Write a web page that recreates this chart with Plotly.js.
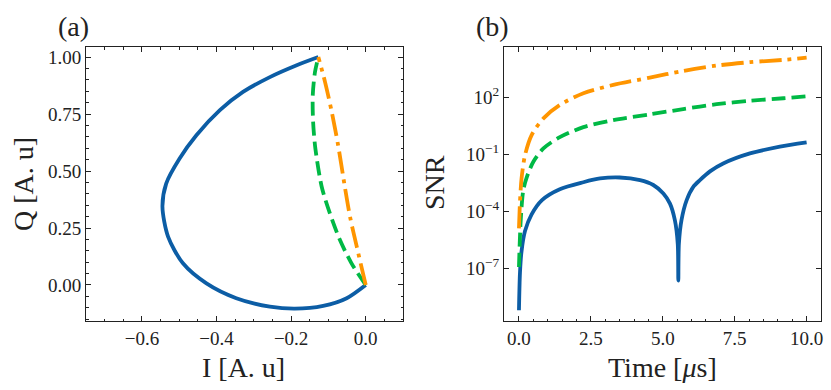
<!DOCTYPE html>
<html>
<head>
<meta charset="utf-8">
<script src="https://cdn.plot.ly/plotly-3.0.1.min.js"></script>
<style>
  html, body { margin: 0; padding: 0; background: #fff; }
  #plot { width: 831px; height: 390px; }
</style>
</head>
<body>
<div id="plot"></div>
<script>
// (a) IQ trajectories
let blueI = [0, -0.051, -0.114, -0.190, -0.257, -0.347, -0.427, -0.490, -0.530, -0.545, -0.535, -0.499, -0.454, -0.391, -0.329, -0.257, -0.185, -0.127];
let blueQ = [0, -0.058, -0.092, -0.104, -0.095, -0.058, 0.007, 0.095, 0.212, 0.343, 0.445, 0.555, 0.657, 0.767, 0.847, 0.912, 0.964, 1.0];

let greenI = [0, -0.038, -0.069, -0.096, -0.118, -0.135, -0.141, -0.142, -0.136, -0.127];
let greenQ = [0, 0.095, 0.197, 0.314, 0.431, 0.599, 0.715, 0.832, 0.934, 1.0];

let orangeI = [0, -0.024, -0.042, -0.056, -0.074, -0.091, -0.109, -0.127];
let orangeQ = [0, 0.168, 0.299, 0.431, 0.613, 0.759, 0.890, 1.0];

// (b) SNR vs time [us]
let blueT = [0, 0.035, 0.09, 0.21, 0.44, 0.8, 1.42, 2.24, 2.82, 3.5, 4.21, 4.67, 5.02, 5.25, 5.42, 5.52, 5.54, 5.56, 5.65, 5.83, 6.06, 6.29, 6.64, 7.1, 8.03, 9.07, 10];
let blueSNR = [6.2e-10, 5.9e-8, 8.1e-7, 9.3e-6, 7.1e-5, 4.0e-4, 1.5e-3, 3.5e-3, 5.5e-3, 6.2e-3, 4.5e-3, 2.5e-3, 8.9e-4, 2.6e-4, 3.5e-5, 2.0e-6, 2.3e-8, 2.0e-6, 3.5e-5, 4.0e-4, 2.0e-3, 4.5e-3, 1.3e-2, 3.4e-2, 0.115, 0.26, 0.44];

let greenT = [0, 0.06, 0.15, 0.27, 0.5, 0.85, 1.42, 2.24, 3.28, 4.55, 5.71, 6.87, 8.03, 9.19, 10];
let greenSNR = [1.2e-7, 3.2e-5, 1.3e-3, 6.3e-3, 4.2e-2, 0.21, 0.83, 2.8, 6.6, 13.2, 25, 45, 69, 93, 117];

let orangeT = [0, 0.035, 0.09, 0.21, 0.44, 0.85, 1.42, 2.24, 3.28, 4.55, 5.71, 6.87, 8.03, 9.19, 10];
let orangeSNR = [1.3e-5, 3.2e-4, 5.5e-3, 0.093, 1.07, 8.1, 41, 170, 470, 1150, 2570, 4900, 7400, 9800, 12900];

let snrTicks = [1e2, 1e-1, 1e-4, 1e-7];
let snrTickText = ['10<sup>2</sup>', '10<sup>−1</sup>', '10<sup>−4</sup>', '10<sup>−7</sup>'];

const blue = '#0C5DA5', green = '#00B945', orange = '#FF9500';
const dashed = '14px,6px', dashdot = '22px,6px,4px,6px';
const font = 'Liberation Serif, Times New Roman, serif';
const W = 831, H = 390;

function line(x, y, color, dash, xa, ya) {
  return {
    x: x, y: y, mode: 'lines', xaxis: xa, yaxis: ya,
    line: {color: color, width: 3.8, dash: dash, shape: 'spline', smoothing: 0.8},
    hoverinfo: 'skip'
  };
}

let data = [
  line(blueI, blueQ, blue, 'solid', 'x', 'y'),
  line(greenI, greenQ, green, dashed, 'x', 'y'),
  line(orangeI, orangeQ, orange, dashdot, 'x', 'y'),
  line(blueT, blueSNR, blue, 'solid', 'x2', 'y2'),
  line(greenT, greenSNR, green, dashed, 'x2', 'y2'),
  line(orangeT, orangeSNR, orange, dashdot, 'x2', 'y2')
];

// common axis look: black frame, inward ticks on all sides
function ax(extra) {
  let base = {
    showline: true, linecolor: '#222', linewidth: 1, mirror: 'allticks',
    ticks: 'inside', ticklen: 5, tickwidth: 1, tickcolor: '#222',
    showgrid: false, zeroline: false, automargin: false,
    tickfont: {family: font, size: 19, color: '#222'}
  };
  return Object.assign(base, extra);
}

function px(x) { return x / W; }
function py(y) { return 1 - y / H; }

let layout = {
  width: W, height: H,
  margin: {l: 0, r: 0, t: 0, b: 0},
  paper_bgcolor: '#fff', plot_bgcolor: '#fff',
  showlegend: false,
  xaxis: ax({
    domain: [px(86), px(403)], range: [-0.75, 0.1],
    tickvals: [-0.6, -0.4, -0.2, 0.0], ticktext: ['−0.6', '−0.4', '−0.2', '0.0'],
    minor: {ticks: 'inside', ticklen: 2.5, dtick: 0.05, tick0: 0, tickcolor: '#222', showgrid: false},
    anchor: 'y'
  }),
  yaxis: ax({
    domain: [py(321), py(47)], range: [-0.158, 1.044],
    tickvals: [0, 0.25, 0.5, 0.75, 1.0], ticktext: ['0.00', '0.25', '0.50', '0.75', '1.00'],
    minor: {ticks: 'inside', ticklen: 2.5, dtick: 0.05, tick0: 0, tickcolor: '#222', showgrid: false},
    anchor: 'x'
  }),
  xaxis2: ax({
    domain: [px(504), px(821)], range: [-0.52, 10.5],
    tickvals: [0, 2.5, 5, 7.5, 10], ticktext: ['0.0', '2.5', '5.0', '7.5', '10.0'],
    minor: {ticks: 'inside', ticklen: 2.5, dtick: 0.5, tick0: 0, tickcolor: '#222', showgrid: false},
    anchor: 'y2'
  }),
  yaxis2: ax({
    domain: [py(321), py(47)], type: 'log', range: [-9.77, 4.67],
    tickvals: snrTicks, ticktext: snrTickText,
    anchor: 'x2'
  }),
  annotations: [
    {text: '(a)', x: px(73), y: py(27)},
    {text: '(b)', x: px(492), y: py(27)},
    {text: 'I [A. u]', x: px(244), y: py(367)},
    {text: 'Time [<i>μ</i>s]', x: px(662), y: py(367)},
    {text: 'Q [A. u]', x: px(23), y: py(184), textangle: -90},
    {text: 'SNR', x: px(434), y: py(183), textangle: -90}
  ].map(a => Object.assign({
    xref: 'paper', yref: 'paper', showarrow: false,
    xanchor: 'center', yanchor: 'middle',
    font: {family: font, size: 28, color: '#222'}
  }, a))
};

Plotly.newPlot('plot', data, layout, {staticPlot: true});
</script>
</body>
</html>
